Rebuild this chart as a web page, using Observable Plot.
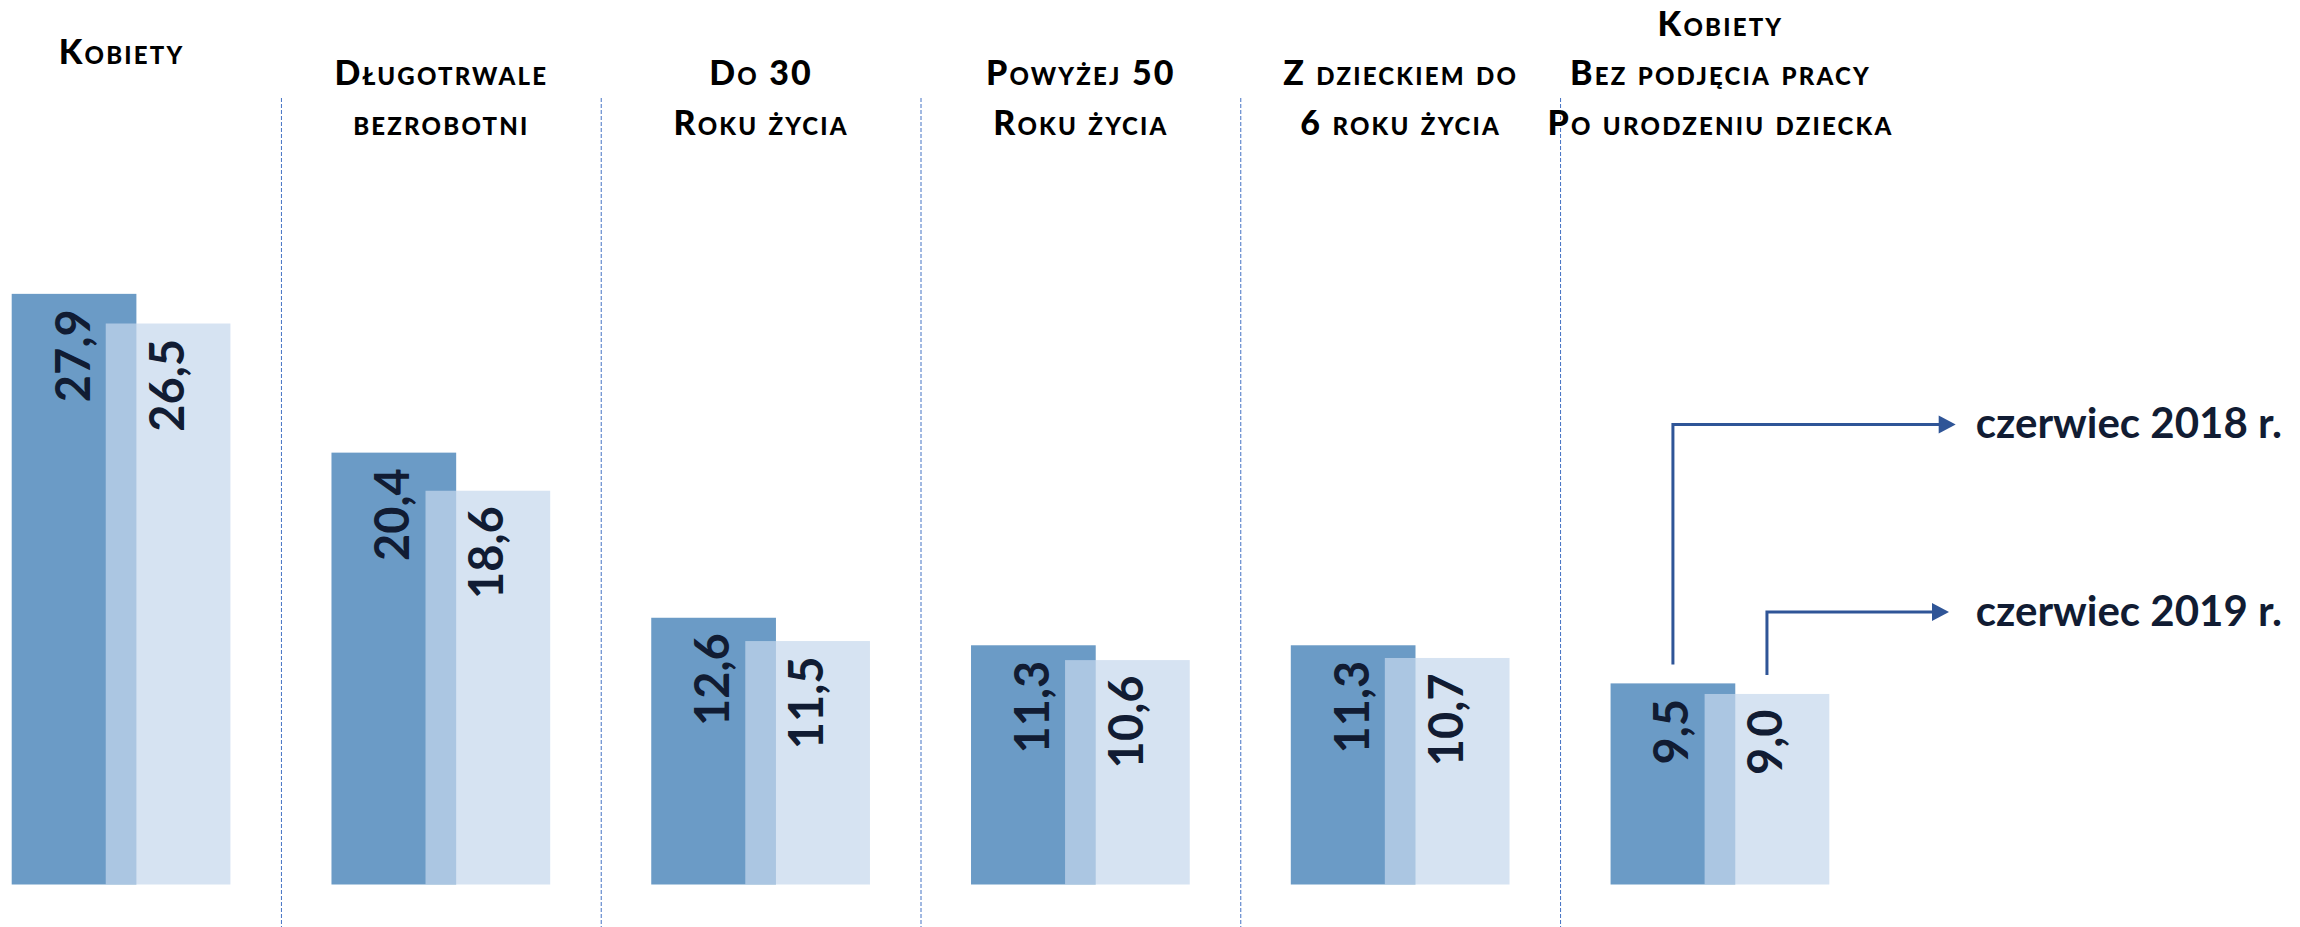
<!DOCTYPE html>
<html>
<head>
<meta charset="utf-8">
<script src="https://cdn.jsdelivr.net/npm/d3@7"></script>
<script src="https://cdn.jsdelivr.net/npm/@observablehq/plot@0.6"></script>
<style>
  html, body { margin: 0; padding: 0; background: #fff; }
  #chart svg { display: block; }
  g[aria-label="values"] text { filter: drop-shadow(2px 1px 1.5px rgba(0,0,0,0.55)); }
</style>
</head>
<body>
<div id="chart"></div>
<script>
// ---- data ----
const categories = [
  "Kobiety",
  "Długotrwale bezrobotni",
  "Do 30 roku życia",
  "Powyżej 50 roku życia",
  "Z dzieckiem do 6 roku życia",
  "Kobiety bez podjęcia pracy po urodzeniu dziecka"
];
const categoryLabels = [
  "Kobiety",
  "Długotrwale\nbezrobotni",
  "Do 30\nRoku życia",
  "Powyżej 50\nRoku życia",
  "Z dzieckiem do\n6 roku życia",
  "Kobiety\nBez podjęcia pracy\nPo urodzeniu dziecka"
];
const seriesNames = ["czerwiec 2018 r.", "czerwiec 2019 r."];
const values2018 = [27.9, 20.4, 12.6, 11.3, 11.3, 9.5];
const values2019 = [26.5, 18.6, 11.5, 10.6, 10.7, 9.0];

// ---- layout ----
const W = 2300, H = 927;
const X0 = 11.7, X1 = 1829.3, PAD = 0.316;
const Y0 = 884.5, PXU = 21.17, YMAX = 30;
const step = (X1 - X0) / (categories.length - PAD);
const bw = step * (1 - PAD);
const barW = 124.7;
const off = bw / 2 - barW / 2;
const legendLevel = [21.73, 12.87];
const tipGap = [126.4, 119.7];
const LETTER_SPACING = "2.2px";

const fmt = v => v.toFixed(1).replace(".", ",");
const rows18 = categories.map((c, i) => ({cat: c, value: values2018[i]}));
const rows19 = categories.map((c, i) => ({cat: c, value: values2019[i]}));
const last = categories[categories.length - 1];
const isMulti = (d, i) => categoryLabels[i].includes("\n");

const DARK = "#6b9bc6", LIGHT = "#c5d8ed", NAVY = "#111c33", LEAD = "#2f5597";
const LABEL_FONT = "Lato, 'Open Sans', sans-serif";
const NUM_FONT = "Lato, 'Open Sans', sans-serif";

function legendLeaders(index, scales) {
  const {x, y} = scales;
  const start = x(last);
  const g = d3.create("svg:g").attr("aria-label", "legend-leaders");
  [values2018, values2019].forEach((vals, s) => {
    const cx = start + (s === 0 ? barW / 2 : bw - barW / 2);
    const yStart = y(vals[vals.length - 1]) - 19;
    const yl = y(legendLevel[s]);
    const tip = start + bw + tipGap[s];
    g.append("path")
      .attr("d", `M${cx},${yStart}V${yl}H${tip - 15}`)
      .attr("fill", "none").attr("stroke", LEAD).attr("stroke-width", 3);
    g.append("path")
      .attr("d", `M${tip},${yl}L${tip - 17},${yl - 9}L${tip - 17},${yl + 9}Z`)
      .attr("fill", LEAD);
  });
  return g.node();
}

const labelStyle = {
  x: d => d, text: (d, i) => categoryLabels[i], frameAnchor: "top",
  lineAnchor: "bottom", lineHeight: 1.45, fontSize: 34, fontWeight: 900, fontVariant: "small-caps",
  fontFamily: LABEL_FONT, fill: "#000"
};

const chart = Plot.plot({
  width: W,
  height: H,
  marginTop: 98,
  marginBottom: 0,
  marginLeft: 0,
  marginRight: 0,
  x: {domain: categories, range: [X0, X1], paddingInner: PAD, paddingOuter: 0, round: false, axis: null},
  y: {domain: [0, YMAX], range: [Y0, Y0 - YMAX * PXU], axis: null},
  marks: [
    Plot.ruleX(categories.slice(1), {x: d => d, dx: -step / 2, stroke: "#4472c4", strokeWidth: 1, strokeDasharray: "4,2"}),
    Plot.barY(rows18, {x: "cat", y: "value", fill: DARK, insetRight: bw - barW}),
    Plot.barY(rows19, {x: "cat", y: "value", fill: LIGHT, fillOpacity: 0.71, insetLeft: bw - barW}),
    Plot.text(rows18, {x: "cat", y: "value", text: d => fmt(d.value), rotate: -90, textAnchor: "end", dy: 15, dx: -off,
      fontSize: 47, fontWeight: "bold", fontFamily: NUM_FONT, fill: NAVY, ariaLabel: "values"}),
    Plot.text(rows19, {x: "cat", y: "value", text: d => fmt(d.value), rotate: -90, textAnchor: "end", dy: 15, dx: off,
      fontSize: 47, fontWeight: "bold", fontFamily: NUM_FONT, fill: NAVY, ariaLabel: "values"}),
    Plot.text(categories, {...labelStyle, filter: isMulti, dy: 36, ariaLabel: "categories"}),
    Plot.text(categories, {...labelStyle, filter: (d, i) => !isMulti(d, i), dy: -35, ariaLabel: "categories-single"}),
    legendLeaders,
    Plot.text(seriesNames, {x: () => last, y: (d, i) => legendLevel[i], text: d => d, dx: bw / 2 + 146, textAnchor: "start",
      fontSize: 42, fontWeight: "bold", fontFamily: NUM_FONT, fill: NAVY, ariaLabel: "legend"})
  ]
});
chart.querySelectorAll("text").forEach(t => {
  const g = t.closest("g");
  if (g && g.getAttribute("font-variant") === "small-caps") {
    t.style.letterSpacing = LETTER_SPACING;
  }
});
document.getElementById("chart").appendChild(chart);
</script>
</body>
</html>
